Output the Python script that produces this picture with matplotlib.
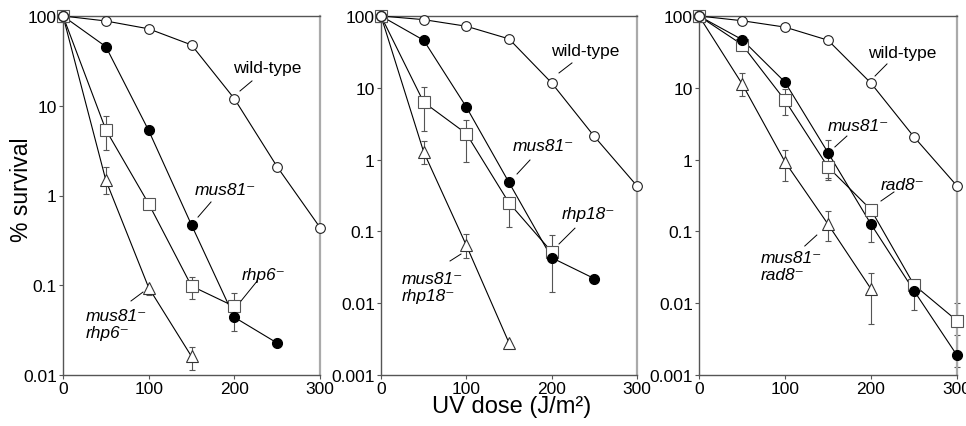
import numpy as np
import matplotlib
matplotlib.use("Agg")
import matplotlib.pyplot as plt
from matplotlib.ticker import FixedLocator, FixedFormatter, NullLocator

plt.rcParams['font.family'] = ['Liberation Sans', 'DejaVu Sans']

nan = np.nan
dose = [0, 50, 100, 150, 200, 250, 300]
x_ticks = [0, 100, 200, 300]

# Panel A
wt_a = [100, 88, 72, 47.6, 12, 2.09, 0.44]
mus81_a = [100, 45.6, 5.3, 0.47, 0.044, 0.0227]
mus81_a_lo = [nan, nan, nan, nan, 0.031, nan]
mus81_a_hi = [nan, nan, nan, nan, nan, nan]
rhp6_a = [100, 5.4, 0.81, 0.098, 0.058]
rhp6_a_lo = [nan, 3.2, nan, 0.07, nan]
rhp6_a_hi = [nan, 7.7, nan, 0.125, 0.083]
dbl_a = [100, 1.48, 0.094, 0.0161]
dbl_a_lo = [nan, 1.03, 0.0775, 0.0113]
dbl_a_hi = [nan, 2.09, nan, 0.0207]

# Panel B
wt_b = [100, 89, 72, 48, 11.7, 2.1, 0.43]
mus81_b = [100, 46, 5.4, 0.48, 0.043, 0.022]
mus81_b_lo = [nan, nan, nan, nan, 0.0141, nan]
mus81_b_hi = [nan, nan, nan, nan, nan, nan]
rhp18_b = [100, 6.3, 2.3, 0.25, 0.052]
rhp18_b_lo = [nan, 2.5, 0.93, 0.114, nan]
rhp18_b_hi = [nan, 10.2, 3.6, nan, 0.088]
dbl_b = [100, 1.28, 0.064, 0.0028]
dbl_b_lo = [nan, 0.86, 0.042, nan]
dbl_b_hi = [nan, 1.8, 0.091, nan]

# Panel C
wt_c = [100, 86, 70, 46, 11.6, 2.07, 0.43]
mus81_c = [100, 47, 12, 1.25, 0.126, 0.0149, 0.00188]
mus81_c_lo = [nan, nan, nan, 0.55, 0.072, 0.0081, 0.0013]
mus81_c_hi = [nan, nan, nan, 1.9, nan, nan, 0.0036]
rad8_c = [100, 40, 6.7, 0.79, 0.2, 0.018, 0.0057]
rad8_c_lo = [nan, nan, 4.2, 0.52, nan, nan, nan]
rad8_c_hi = [nan, nan, 9.7, nan, nan, 0.021, 0.010]
dbl_c = [100, 11.4, 0.93, 0.126, 0.0158]
dbl_c_lo = [nan, 7.8, 0.5, 0.073, 0.0052]
dbl_c_hi = [nan, 16, 1.36, 0.19, 0.026]

y_ticks_a = [100, 10, 1, 0.1, 0.01]
y_labels_a = ['100', '10', '1', '0.1', '0.01']
y_ticks_bc = [100, 10, 1, 0.1, 0.01, 0.001]
y_labels_bc = ['100', '10', '1', '0.1', '0.01', '0.001']

W, H = 966, 427
fig = plt.figure(figsize=(W / 100, H / 100), dpi=100)

ax_bottom = (H - 376) / H
ax_h = 359 / H
axA = fig.add_axes([63 / W, ax_bottom, 257 / W, ax_h])
axB = fig.add_axes([381 / W, ax_bottom, 256 / W, ax_h])
axC = fig.add_axes([699 / W, ax_bottom, 258 / W, ax_h])

LW = 0.8
FS = 12.5
ECOL = '#555555'


def errs(ax, y, lo, hi):
    x = np.array(dose[:len(y)], dtype=float)
    y = np.array(y, dtype=float)
    lo = np.array(lo, dtype=float)
    hi = np.array(hi, dtype=float)
    dlo = np.where(np.isnan(lo), 0, y - lo)
    dhi = np.where(np.isnan(hi), 0, hi - y)
    ax.errorbar(x, y, yerr=[dlo, dhi], fmt='none', ecolor=ECOL,
                elinewidth=0.8, capsize=2.2, capthick=0.8, zorder=2,
                clip_on=False)


def series(ax, y, marker, face, edge, ms, z):
    x = dose[:len(y)]
    ax.plot(x, y, '-', color='black', lw=LW, zorder=3, clip_on=False)
    ax.plot(x, y, linestyle='none', marker=marker, ms=ms, mfc=face,
            mec=edge, mew=0.8, zorder=z, clip_on=False)


def style(ax, yt, yl, ylim):
    ax.set_yscale('log')
    ax.set_xlim(0, 300)
    ax.set_ylim(*ylim)
    ax.yaxis.set_major_locator(FixedLocator(yt))
    ax.yaxis.set_major_formatter(FixedFormatter(yl))
    ax.yaxis.set_minor_locator(NullLocator())
    ax.set_xticks(x_ticks)
    ax.set_xticklabels([str(v) for v in x_ticks])
    ax.tick_params(direction='out', length=3, width=0.8, color='#555555',
                   labelsize=FS, pad=1.5)
    for s in ['left', 'bottom', 'top']:
        ax.spines[s].set_color('#555555')
        ax.spines[s].set_linewidth(1.0)
    ax.spines['right'].set_color('#aaaaaa')
    ax.spines['right'].set_linewidth(1.6)


def label(ax, text, tx, ty, lx, ly, ha='left'):
    ax.text(tx, ty, text, fontsize=FS, style='italic' if text != 'wild-type' else 'normal',
            ha=ha, va='center', zorder=6, linespacing=1.15)
    ax.plot(lx, ly, '-', color='black', lw=0.7, zorder=6, clip_on=False)


def panel(ax, wt, mus, mus_lo, mus_hi, sq, sq_lo, sq_hi, tri, tri_lo, tri_hi):
    errs(ax, mus, mus_lo, mus_hi)
    errs(ax, sq, sq_lo, sq_hi)
    errs(ax, tri, tri_lo, tri_hi)
    series(ax, tri, '^', 'white', '#333333', 8.5, 4)
    series(ax, sq, 's', 'white', '#555555', 8.3, 4)
    series(ax, mus, 'o', 'black', 'black', 7.2, 5)
    series(ax, wt, 'o', 'white', '#222222', 7.0, 5)


panel(axA, wt_a, mus81_a, mus81_a_lo, mus81_a_hi, rhp6_a, rhp6_a_lo, rhp6_a_hi,
      dbl_a, dbl_a_lo, dbl_a_hi)
style(axA, y_ticks_a, y_labels_a, (0.01, 100))
label(axA, 'wild-type', 238, 27, [206.6, 220.6], [14.6, 18.9], ha='center')
label(axA, 'mus81\u207b', 154, 1.18, [157.6, 172.8], [0.575, 0.847])
label(axA, 'rhp6\u207b', 209, 0.133, [207.8, 226.5], [0.0668, 0.111])
label(axA, 'mus81\u207b\nrhp6\u207b', 26.8, 0.037, [79.4, 93.4], [0.0668, 0.084])

panel(axB, wt_b, mus81_b, mus81_b_lo, mus81_b_hi, rhp18_b, rhp18_b_lo, rhp18_b_hi,
      dbl_b, dbl_b_lo, dbl_b_hi)
style(axB, y_ticks_bc, y_labels_bc, (0.001, 100))
label(axB, 'wild-type', 239, 33.6, [208.6, 223.8], [16.1, 22.2], ha='center')
label(axB, 'mus81\u207b', 154.7, 1.55, [159.4, 174.6], [0.63, 0.987])
label(axB, 'rhp18\u207b', 212, 0.18, [208.6, 227.3], [0.0668, 0.111])
label(axB, 'mus81\u207b\nrhp18\u207b', 24.6, 0.0166, [80.9, 93.75], [0.0387, 0.0484])

panel(axC, wt_c, mus81_c, mus81_c_lo, mus81_c_hi, rad8_c, rad8_c_lo, rad8_c_hi,
      dbl_c, dbl_c_lo, dbl_c_hi)
style(axC, y_ticks_bc, y_labels_bc, (0.001, 100))
label(axC, 'wild-type', 236, 31.5, [204.7, 218.6], [14.6, 21.5], ha='center')
label(axC, 'mus81\u207b', 150, 3.03, [158, 172], [1.5, 2.13])
label(axC, 'rad8\u207b', 211.6, 0.443, [211.6, 226.7], [0.265, 0.354])
label(axC, 'mus81\u207b\nrad8\u207b', 72, 0.033, [123, 137], [0.0626, 0.089])

fig.text(22 / W, 1 - 190 / H, '% survival', rotation=90, ha='center',
         va='center', fontsize=16.5)
fig.text(512 / W, 1 - 407 / H, 'UV dose (J/m\u00b2)', ha='center', va='center',
         fontsize=17)

fig.savefig('out.png', dpi=100)
